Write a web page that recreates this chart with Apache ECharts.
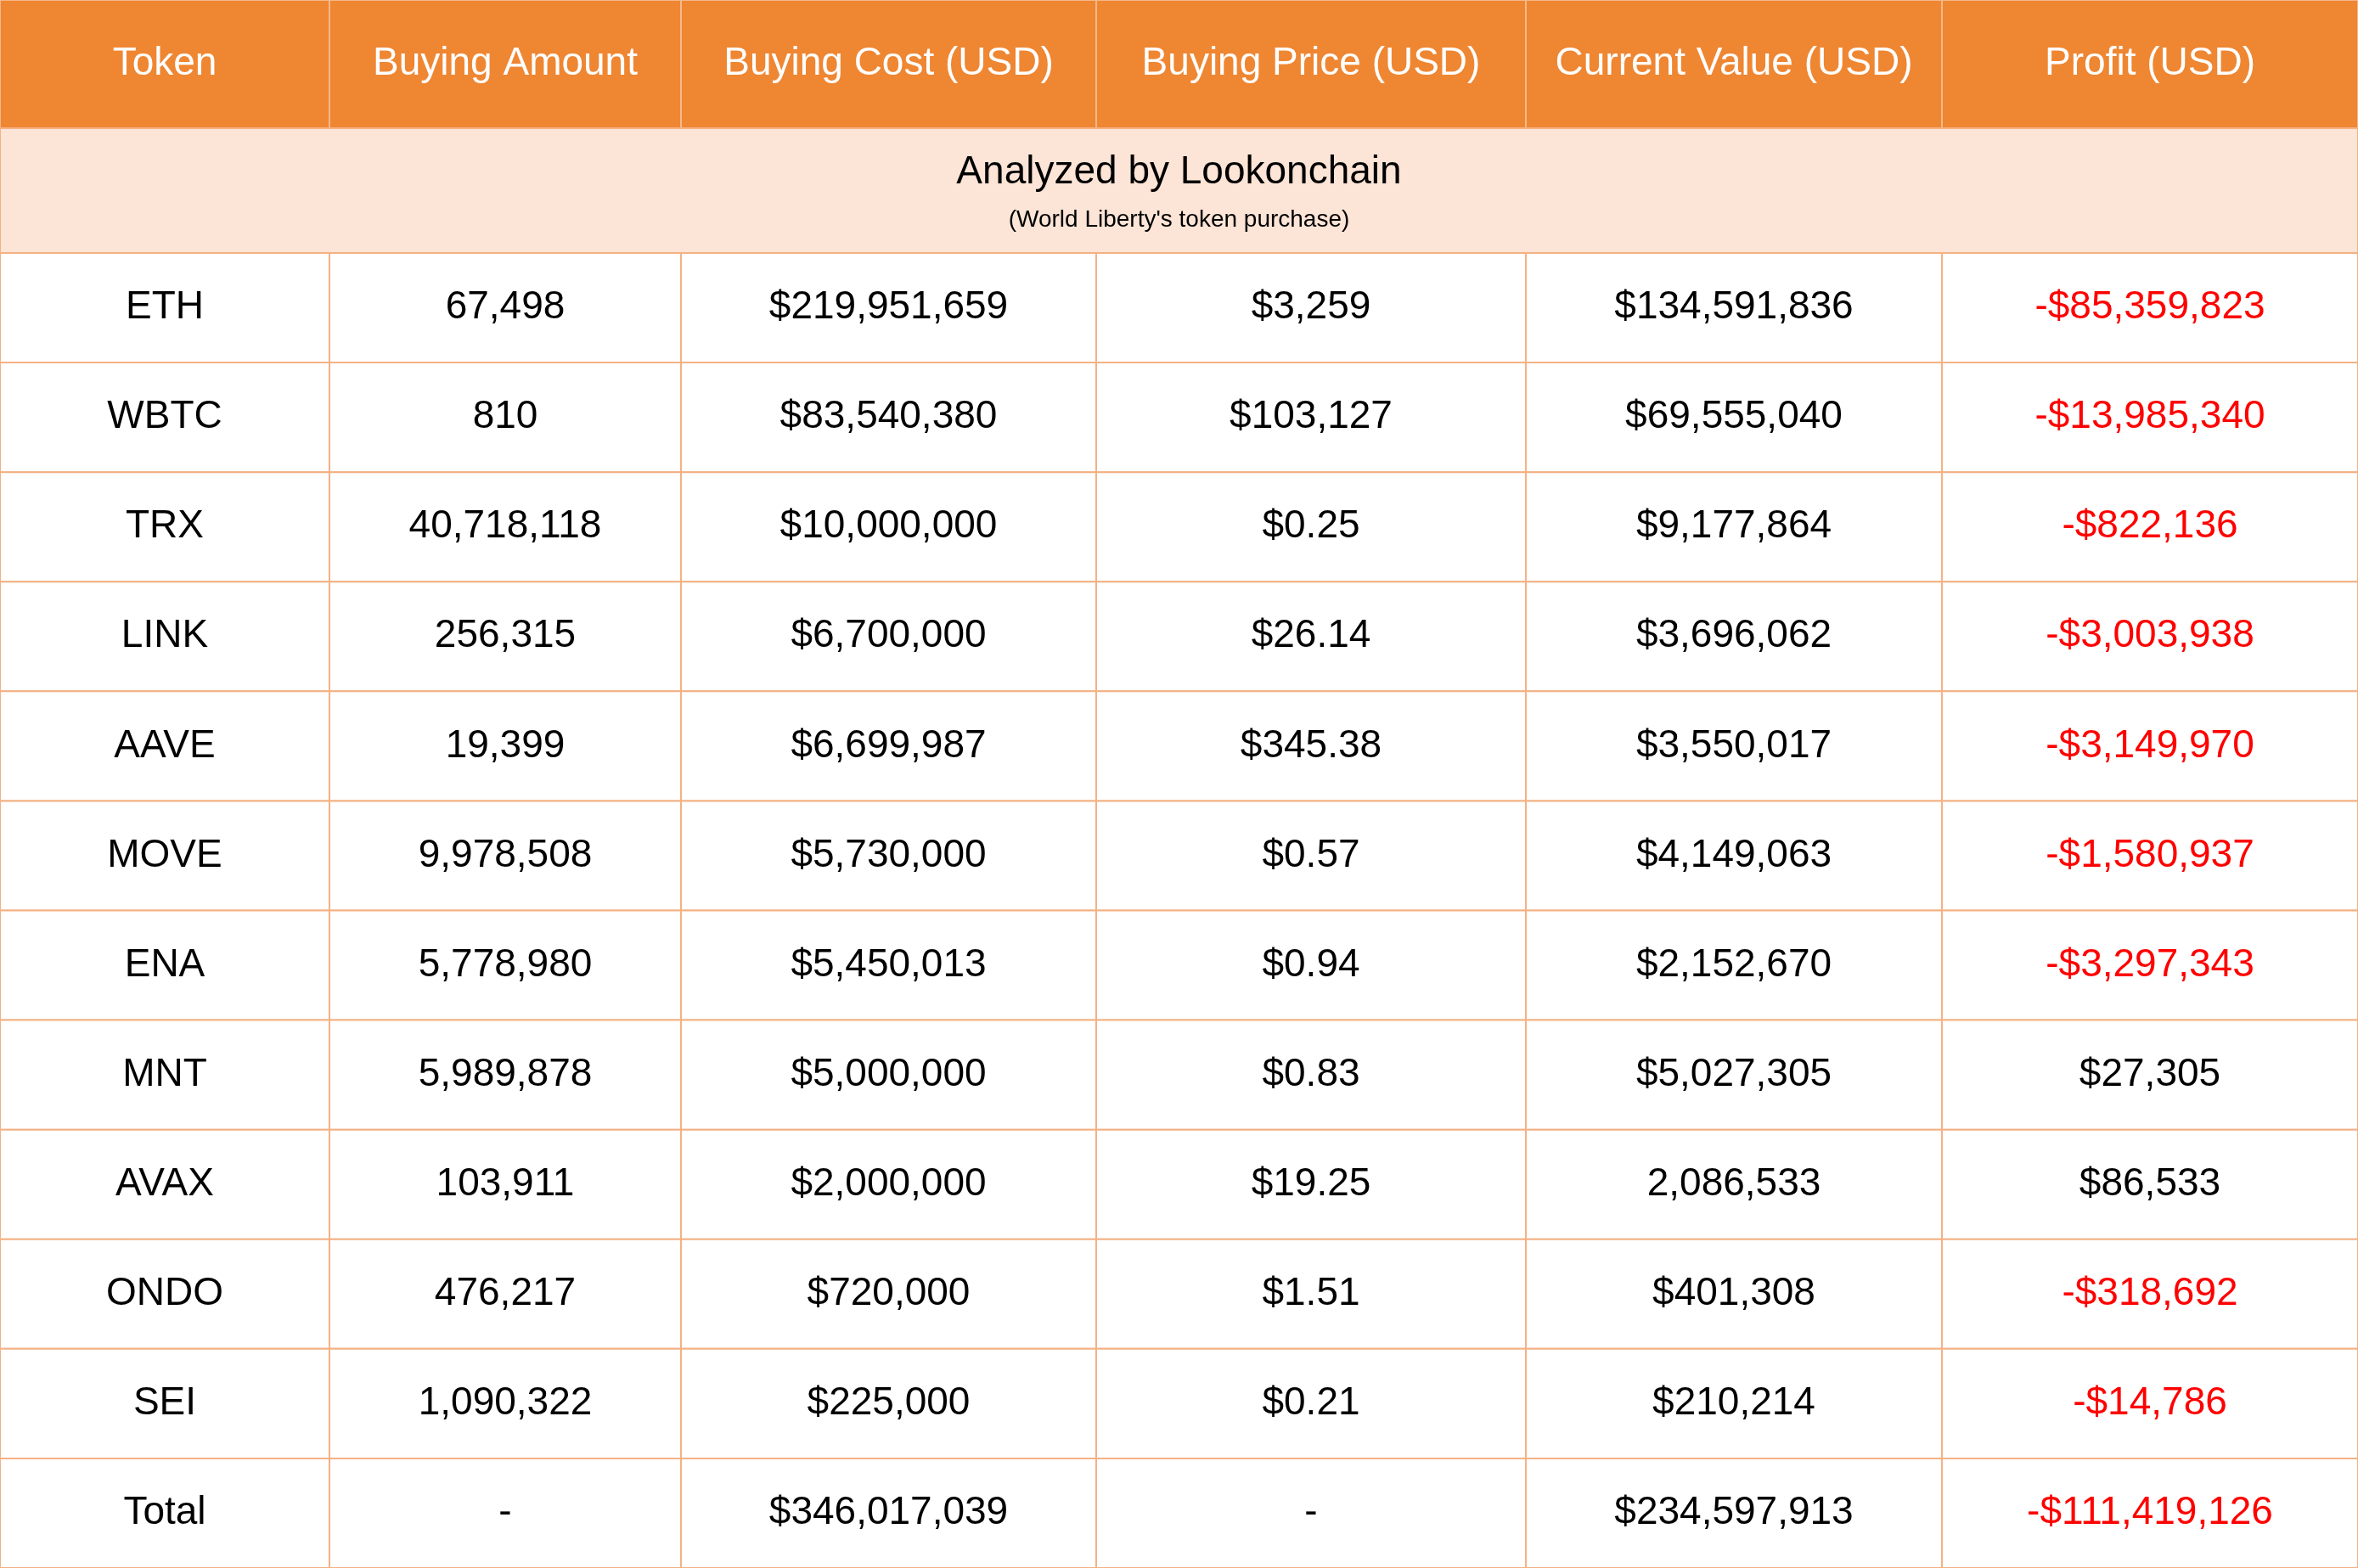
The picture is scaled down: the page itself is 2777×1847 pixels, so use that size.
<!DOCTYPE html>
<html><head><meta charset="utf-8">
<script src="https://cdn.jsdelivr.net/npm/echarts@6/dist/echarts.min.js"></script>
<style>html,body{margin:0;padding:0;background:#fff}#c{width:2777px;height:1847px}</style>
</head><body><div id="c"></div>
<script>
const headers = ["Token","Buying Amount","Buying Cost (USD)","Buying Price (USD)","Current Value (USD)","Profit (USD)"];
const tokens = ["ETH","WBTC","TRX","LINK","AAVE","MOVE","ENA","MNT","AVAX","ONDO","SEI","Total"];
const buyingAmount = ["67,498","810","40,718,118","256,315","19,399","9,978,508","5,778,980","5,989,878","103,911","476,217","1,090,322","-"];
const buyingCost = ["$219,951,659","$83,540,380","$10,000,000","$6,700,000","$6,699,987","$5,730,000","$5,450,013","$5,000,000","$2,000,000","$720,000","$225,000","$346,017,039"];
const buyingPrice = ["$3,259","$103,127","$0.25","$26.14","$345.38","$0.57","$0.94","$0.83","$19.25","$1.51","$0.21","-"];
const currentValue = ["$134,591,836","$69,555,040","$9,177,864","$3,696,062","$3,550,017","$4,149,063","$2,152,670","$5,027,305","2,086,533","$401,308","$210,214","$234,597,913"];
const profit = ["-$85,359,823","-$13,985,340","-$822,136","-$3,003,938","-$3,149,970","-$1,580,937","-$3,297,343","$27,305","$86,533","-$318,692","-$14,786","-$111,419,126"];
const title = "Analyzed by Lookonchain";
const subtitle = "(World Liberty's token purchase)";

const colBounds = [0,388,802,1291,1797,2287,2777];
const headH = 151, subH = 147, rowH = (1847-headH-subH)/12;
const cols = [tokens,buyingAmount,buyingCost,buyingPrice,currentValue,profit];
const data = [];
headers.forEach((h,c)=>data.push({value:[c,-1],t:h,kind:'head'}));
data.push({value:[0,-0.5],t:title,kind:'sub'});
tokens.forEach((_,r)=>cols.forEach((arr,c)=>{
  const v=arr[r]; data.push({value:[c,r],t:v,kind:'cell',red:c===5&&v.startsWith('-')});
}));
const chart = echarts.init(document.getElementById('c'));
chart.setOption({
  animation:false,
  grid:{left:0,right:0,top:0,bottom:0},
  xAxis:{type:'value',min:0,max:2777,show:false},
  yAxis:{type:'value',min:0,max:1847,inverse:true,show:false},
  series:[{type:'custom',data:data,renderItem:(params,api)=>{
    const d=data[params.dataIndex];
    const c=api.value(0), r=api.value(1);
    let x0,x1,y0,y1;
    if(d.kind==='head'){x0=colBounds[c];x1=colBounds[c+1];y0=0;y1=headH;}
    else if(d.kind==='sub'){x0=0;x1=2777;y0=headH;y1=headH+subH;}
    else {x0=colBounds[c];x1=colBounds[c+1];y0=headH+subH+r*rowH;y1=y0+rowH;}
    const p0=api.coord([x0,y0]), p1=api.coord([x1,y1]);
    const w=p1[0]-p0[0], h=p1[1]-p0[1], cx=p0[0]+w/2, cy=p0[1]+h/2;
    const ch=[];
    if(d.kind==='head'){
      ch.push({type:'rect',shape:{x:p0[0],y:p0[1],width:w,height:h},style:{fill:'#EF8632',stroke:'#F6B889',lineWidth:2}});
      ch.push({type:'text',style:{text:d.t,x:cx,y:cy,align:'center',verticalAlign:'middle',fill:'#fff',font:'46px "Liberation Sans", Arial, sans-serif'}});
    } else if(d.kind==='sub'){
      ch.push({type:'rect',shape:{x:p0[0],y:p0[1],width:w,height:h},style:{fill:'#FCE4D6',stroke:'#F4B183',lineWidth:2}});
      ch.push({type:'text',style:{text:d.t,x:cx,y:p0[1]+52,align:'center',verticalAlign:'middle',fill:'#000',font:'46px "Liberation Sans", Arial, sans-serif'}});
      ch.push({type:'text',style:{text:subtitle,x:cx,y:p0[1]+108,align:'center',verticalAlign:'middle',fill:'#000',font:'28px "Liberation Sans", Arial, sans-serif'}});
    } else {
      ch.push({type:'rect',shape:{x:p0[0],y:p0[1],width:w,height:h},style:{fill:'#fff',stroke:'#F4B183',lineWidth:2}});
      ch.push({type:'text',style:{text:d.t,x:cx,y:cy,align:'center',verticalAlign:'middle',fill:d.red?'#FF0000':'#000',font:'46px "Liberation Sans", Arial, sans-serif'}});
    }
    return {type:'group',children:ch};
  }}]
});
</script></body></html>
